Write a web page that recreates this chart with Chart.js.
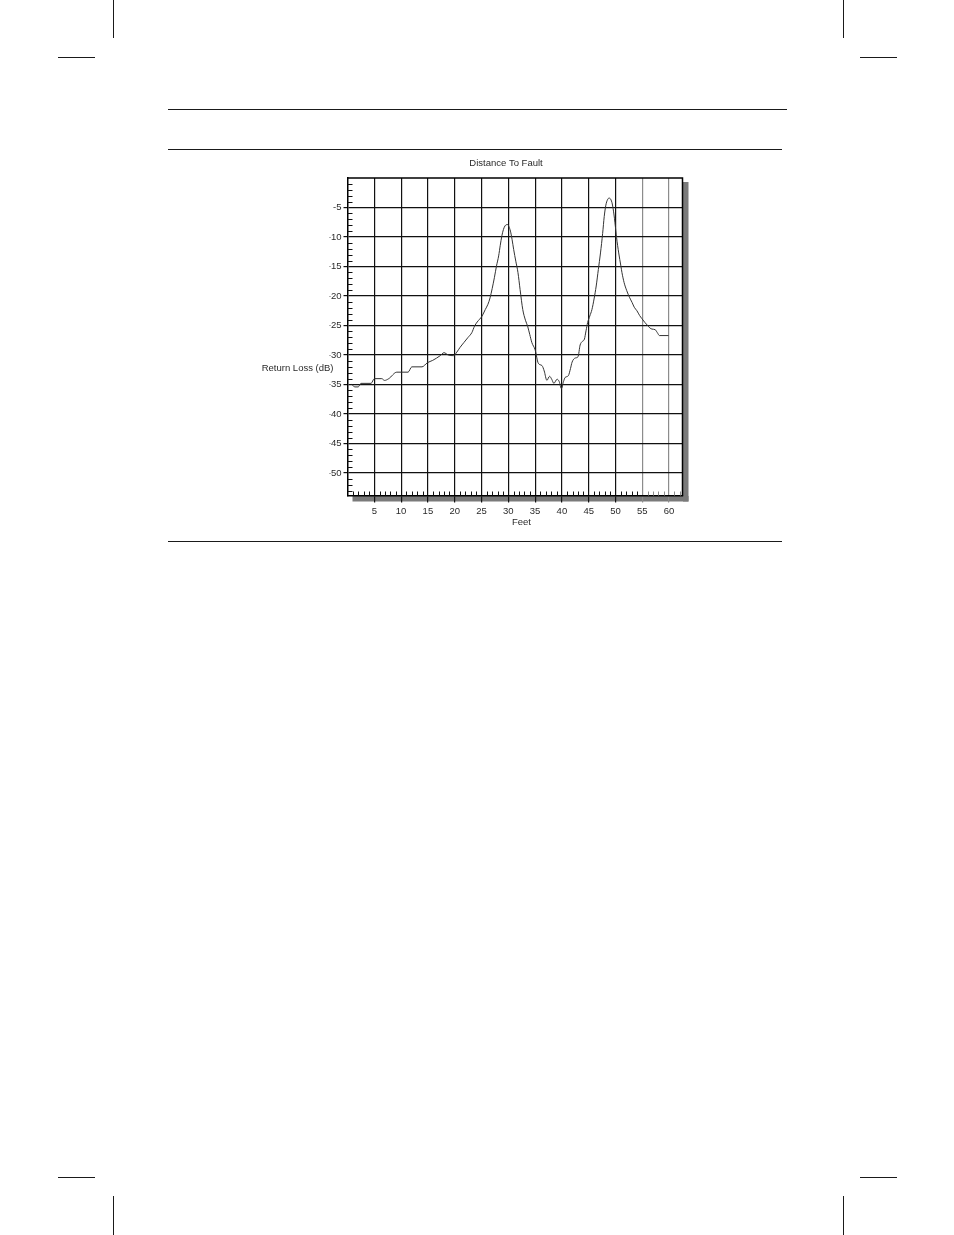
<!DOCTYPE html>
<html>
<head>
<meta charset="utf-8">
<script src="https://cdn.jsdelivr.net/npm/chart.js@4.4.1/dist/chart.umd.min.js"></script>
<style>
  html, body { margin: 0; padding: 0; background: #fff; }
  body { width: 954px; height: 1235px; position: relative; overflow: hidden; }
  .h { position: absolute; height: 1px; background: #1a1a1a; }
  .v { position: absolute; width: 1px; background: #1a1a1a; }
  #wrap { position: absolute; left: 0; top: 140px; width: 954px; height: 400px; }
</style>
</head>
<body>
<!-- crop marks -->
<div class="v" style="left:113px;top:0px;height:38px"></div>
<div class="v" style="left:843px;top:0px;height:38px"></div>
<div class="h" style="left:58px;top:57px;width:37px"></div>
<div class="h" style="left:860px;top:57px;width:37px"></div>
<div class="h" style="left:58px;top:1177px;width:37px"></div>
<div class="h" style="left:860px;top:1177px;width:37px"></div>
<div class="v" style="left:113px;top:1196px;height:39px"></div>
<div class="v" style="left:843px;top:1196px;height:39px"></div>
<!-- rules -->
<div class="h" style="left:168px;top:109px;width:619px"></div>
<div class="h" style="left:168px;top:149px;width:614px"></div>
<div class="h" style="left:168px;top:541px;width:614px"></div>

<div id="wrap"><canvas id="c" width="954" height="400"></canvas></div>

<script>
// ---- data ----
const chartTitle = "Distance To Fault";
const xAxisLabel = "Feet";
const yAxisLabel = "Return Loss (dB)";

const xTickValues = [5, 10, 15, 20, 25, 30, 35, 40, 45, 50, 55, 60];
const yTickValues = [-50, -45, -40, -35, -30, -25, -20, -15, -10, -5];

const feet = [
  0.8, 1.4, 2.0, 2.5, 4.4, 5.0, 6.4, 6.9, 7.7, 9.2,
  11.3, 12.0, 13.9, 14.9, 15.9, 17.3, 18.0, 18.8, 19.8, 20.4,
  21.0, 21.7, 22.5, 23.2, 23.7, 24.2, 25.1, 25.7, 26.2, 26.6,
  27.0, 27.4, 27.8, 28.2, 28.5, 28.8, 29.1, 29.4, 29.7, 29.9,
  30.1, 30.4, 30.7, 31.0, 31.4, 31.8, 32.2, 32.7, 33.2, 33.6,
  34.0, 34.4, 35.0, 35.6, 36.3, 36.7, 37.2, 37.7, 38.1, 38.5,
  39.1, 39.5, 39.9, 40.3, 40.6, 41.2, 41.6, 41.9, 42.5, 43.0,
  43.4, 43.8, 44.2, 44.5, 44.8, 45.2, 45.6, 46.0, 46.4, 46.8,
  47.2, 47.6, 47.9, 48.2, 48.5, 48.8, 49.1, 49.4, 49.7, 49.9,
  50.2, 50.6, 51.0, 51.2, 51.6, 52.1, 52.6, 53.1, 53.5, 54.0,
  54.5, 54.9, 55.5, 56.0, 56.4, 56.8, 57.4, 57.8, 58.2, 59.9
];
const returnLoss = [
  -35.0, -35.4, -35.4, -34.8, -34.8, -34.0, -34.0, -34.3, -34.0, -32.9,
  -32.9, -32.0, -32.0, -31.3, -30.9, -30.1, -29.6, -30.0, -30.1, -29.5,
  -28.7, -27.9, -27.0, -26.2, -25.1, -24.4, -23.4, -22.3, -21.4, -20.3,
  -18.7, -16.9, -14.9, -13.2, -11.4, -9.8, -8.7, -8.1, -7.9, -7.9,
  -8.2, -9.0, -10.4, -12.1, -14.1, -16.0, -18.9, -22.3, -24.1, -25.1,
  -26.5, -27.9, -29.1, -31.4, -31.8, -32.7, -34.3, -33.6, -34.1, -34.8,
  -34.1, -34.5, -35.7, -34.5, -33.8, -33.5, -32.3, -31.2, -30.5, -30.3,
  -28.3, -27.7, -27.3, -25.9, -24.5, -23.4, -22.3, -20.5, -18.3, -15.5,
  -12.7, -9.4, -6.5, -4.6, -3.7, -3.4, -3.6, -4.4, -6.1, -7.6,
  -10.1, -12.7, -14.9, -16.0, -17.7, -19.1, -20.2, -21.1, -21.9, -22.5,
  -23.3, -23.8, -24.5, -25.0, -25.4, -25.6, -25.7, -26.2, -26.7, -26.7
];

// ---- styling / layout ----
const FONT = "'Liberation Sans', Arial, sans-serif";
const TEXT = '#2a2a2a';
const GRID = '#111111';
const GRID_LIGHT = '#8c8c8c';
const SHADOW = '#7a7a7a';

const framePlugin = {
  id: 'frame',
  beforeDraw(chart) {
    const { ctx, chartArea: a } = chart;
    ctx.save();
    ctx.fillStyle = SHADOW;
    ctx.fillRect(a.right + 0.5, a.top + 4, 5.5, a.bottom - a.top + 2);
    ctx.fillRect(a.left + 5, a.bottom + 0.5, a.right - a.left + 1, 5.5);
    ctx.restore();
  },
  afterDraw(chart) {
    const { ctx, chartArea: a } = chart;
    const xs = chart.scales.x, ys = chart.scales.y;
    ctx.save();
    // top and right frame
    ctx.strokeStyle = '#000';
    ctx.lineWidth = 1.5;
    ctx.beginPath();
    ctx.moveTo(a.left, a.top);
    ctx.lineTo(a.right, a.top);
    ctx.lineTo(a.right, a.bottom);
    ctx.stroke();
    // minor ticks (1 dB) on y axis, inside
    ctx.lineWidth = 1;
    ctx.strokeStyle = GRID;
    ctx.beginPath();
    for (let v = Math.ceil(ys.min); v <= Math.floor(ys.max); v++) {
      if (v % 5 === 0) continue;
      const p = Math.round(ys.getPixelForValue(v)) + 0.5;
      ctx.moveTo(a.left, p);
      ctx.lineTo(a.left + 5, p);
    }
    ctx.stroke();
    // minor ticks (1 ft) on x axis, inside
    for (let v = Math.ceil(xs.min) + 1; v <= Math.floor(xs.max); v++) {
      if (v % 5 === 0) continue;
      const p = Math.round(xs.getPixelForValue(v)) + 0.5;
      ctx.strokeStyle = v > 55 ? GRID_LIGHT : GRID;
      ctx.beginPath();
      ctx.moveTo(p, a.bottom);
      ctx.lineTo(p, a.bottom - 4);
      ctx.stroke();
    }
    // axis labels
    ctx.fillStyle = TEXT;
    ctx.font = "9.5px " + FONT;
    ctx.textBaseline = 'middle';
    ctx.textAlign = 'right';
    ctx.fillText(yAxisLabel, a.left - 14, a.top + 190);
    ctx.textAlign = 'center';
    ctx.fillText(xAxisLabel, a.left + 174, a.bottom + 27);
    ctx.restore();
  }
};

const points = feet.map((f, i) => ({ x: f, y: returnLoss[i] }));

new Chart(document.getElementById('c'), {
  type: 'line',
  data: {
    datasets: [{
      data: points,
      borderColor: '#333333',
      borderWidth: 1,
      pointRadius: 0,
      fill: false,
      cubicInterpolationMode: 'monotone'
    }]
  },
  options: {
    responsive: false,
    animation: false,
    events: [],
    layout: { padding: { left: 329.5, right: 271.5, top: 10, bottom: 14.5 } },
    plugins: {
      legend: { display: false },
      tooltip: { enabled: false },
      title: {
        display: true,
        text: chartTitle,
        color: TEXT,
        font: { family: FONT, size: 9.5, weight: 'normal' },
        padding: { top: 8, bottom: 8.6 }
      }
    },
    scales: {
      x: {
        type: 'linear',
        min: 0,
        max: 62.5,
        afterFit(s) { s.height = 30; },
        afterBuildTicks(s) { s.ticks = xTickValues.map(v => ({ value: v })); },
        grid: {
          color: c => (c.tick && c.tick.value >= 55) ? GRID_LIGHT : GRID,
          lineWidth: 1.2,
          tickLength: 7
        },
        border: { display: true, color: '#000', width: 1.5 },
        ticks: {
          color: TEXT,
          padding: 3,
          maxRotation: 0,
          autoSkip: false,
          font: { family: FONT, size: 9.5 }
        }
      },
      y: {
        type: 'linear',
        min: -53.8,
        max: 0,
        afterFit(s) { s.width = 18; },
        afterBuildTicks(s) { s.ticks = yTickValues.map(v => ({ value: v })); },
        grid: { color: GRID, lineWidth: 1.2, tickLength: 4 },
        border: { display: true, color: '#000', width: 1.5 },
        ticks: {
          color: TEXT,
          padding: 2,
          autoSkip: false,
          font: { family: FONT, size: 9.5 }
        }
      }
    }
  },
  plugins: [framePlugin]
});
</script>
</body>
</html>
